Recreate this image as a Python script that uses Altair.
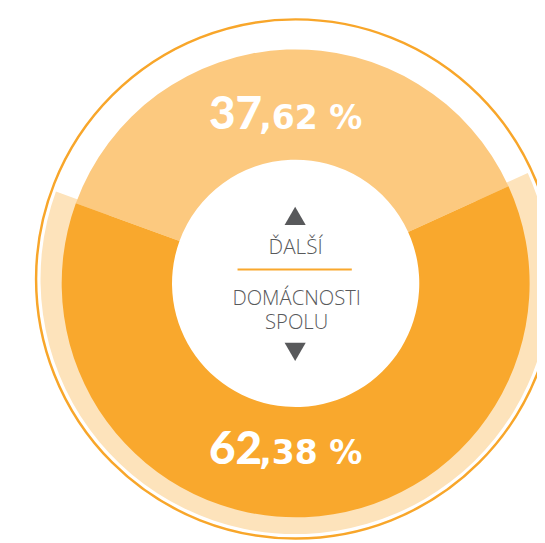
import math
import altair as alt
import pandas as pd

# ---- data ----
categories = ["ĎALŠÍ", "DOMÁCNOSTI SPOLU"]
values = [37.62, 62.38]
order_idx = [0, 1]
center_top = ["ĎALŠÍ"]
center_mid = ["DOMÁCNOSTI"]
center_low = ["SPOLU"]

# ---- style ----
seg_colors = ["#FCC97F", "#F9A82D"]
band_color = "#FDE3BB"
ring_color = "#F8A62A"
text_gray = "#58595B"


def split_label(v):
    s = f"{v:.2f}".replace(".", ",")
    i, d = s.split(",")
    return i, "," + d + "\u00a0%"


df = pd.DataFrame({
    "category": categories,
    "value": values,
    "idx": order_idx,
    "int_part": [split_label(v)[0] for v in values],
    "dec_part": [split_label(v)[1] for v in values],
})

total = sum(values)
half_light = values[0] / total * math.pi
rot = math.radians(-2.25)
arc_range = [-half_light + rot, 2 * math.pi - half_light + rot]
label_range = [-half_light, 2 * math.pi - half_light]

W, H = 537, 535
CX, CY = 292, 275.5   # donut centre
RX, RY = 292, 271     # outer ring / band centre

theta_arc = alt.Theta("value:Q", stack=True, scale=alt.Scale(range=arc_range))
theta_lbl = alt.Theta("value:Q", stack=True, scale=alt.Scale(range=label_range))
order = alt.Order("idx:Q")

ring = alt.Chart(pd.DataFrame({"k": [0]})).mark_point(
    shape="circle", size=(2 * 263.5) ** 2, filled=False, stroke=ring_color,
    color=ring_color, strokeWidth=2.5, opacity=1
).encode(x=alt.value(RX), y=alt.value(RY))

band = alt.Chart(df).mark_arc(
    x=RX, y=RY, radius=259, radius2=200, color=band_color
).encode(
    theta=theta_arc, order=order,
    opacity=alt.condition(alt.datum.idx == 1, alt.value(1), alt.value(0)),
)

segments = alt.Chart(df).mark_arc(
    x=CX, y=CY, radius=237.5, radius2=125.5
).encode(
    theta=theta_arc, order=order,
    color=alt.Color("category:N", scale=alt.Scale(domain=categories, range=seg_colors), legend=None),
)

int_txt = alt.Chart(df).mark_text(
    x=CX, y=CY, radius=170, dx=-34, dy=13, align="right", baseline="alphabetic",
    font="Lato", fontWeight=900, fontSize=46.5, color="white"
).encode(theta=theta_lbl, order=order, text="int_part:N")

dec_txt = alt.Chart(df).mark_text(
    x=CX, y=CY, radius=170, dx=-37, dy=13, align="left", baseline="alphabetic",
    font="DejaVu Sans", fontWeight="bold", fontSize=33.5, color="white"
).encode(theta=theta_lbl, order=order, text="dec_part:N")

up = alt.Chart(pd.DataFrame({"s": ["up"]})).mark_point(
    shape="triangle-up", size=460, filled=True, color=text_gray, opacity=1
).encode(x=alt.value(291.5), y=alt.value(207))

down = alt.Chart(pd.DataFrame({"s": ["down"]})).mark_point(
    shape="triangle-down", size=460, filled=True, color=text_gray, opacity=1
).encode(x=alt.value(291.5), y=alt.value(345))

top_txt = alt.Chart(pd.DataFrame({"t": center_top})).mark_text(
    font="Open Sans", fontWeight=300, fontSize=21, color=text_gray,
    align="center", baseline="alphabetic"
).encode(x=alt.value(292), y=alt.value(245.3), text="t:N")

line = alt.Chart(pd.DataFrame({"k": [0]})).mark_rule(
    color="#F9A82D", strokeWidth=2
).encode(x=alt.value(233), x2=alt.value(349), y=alt.value(261.3))

mid_txt = alt.Chart(pd.DataFrame({"t": center_mid})).mark_text(
    font="Open Sans", fontWeight=300, fontSize=20.5, color=text_gray,
    align="center", baseline="alphabetic"
).encode(x=alt.value(293), y=alt.value(297.8), text="t:N")

low_txt = alt.Chart(pd.DataFrame({"t": center_low})).mark_text(
    font="Open Sans", fontWeight=300, fontSize=20.5, color=text_gray,
    align="center", baseline="alphabetic"
).encode(x=alt.value(293), y=alt.value(322.2), text="t:N")

chart = alt.layer(
    ring, band, segments, int_txt, dec_txt, up, down, top_txt, line, mid_txt, low_txt
).resolve_scale(theta="independent").properties(
    width=W, height=H, padding=0, autosize=alt.AutoSizeParams(type="none"),
    background="white"
).configure_view(stroke=None)

chart.save("out.html", embed_options={"renderer": "svg", "actions": False})
